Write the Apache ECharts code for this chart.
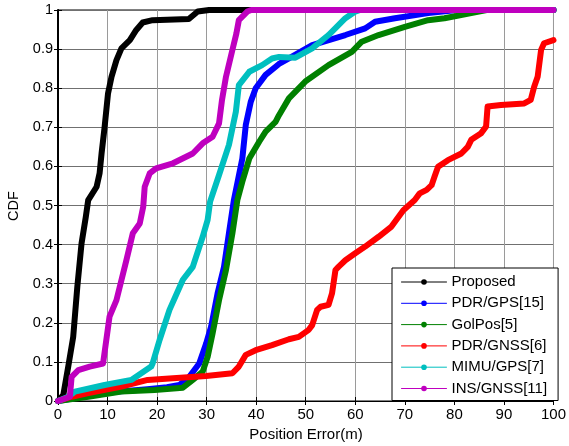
<!DOCTYPE html>
<html><head><meta charset="utf-8">
<script src="https://cdn.jsdelivr.net/npm/echarts@6/dist/echarts.min.js"></script>
<style>html,body{margin:0;padding:0;background:#fff}#c{width:569px;height:446px}</style>
</head><body><div id="c"></div>
<script>
var seriesNames = ['Proposed','PDR/GPS[15]','GolPos[5]','PDR/GNSS[6]','MIMU/GPS[7]','INS/GNSS[11]'];
var xTicks = [0,10,20,30,40,50,60,70,80,90,100];
var yTicks = [0,0.1,0.2,0.3,0.4,0.5,0.6,0.7,0.8,0.9,1];

var proposed = [[0,0],[0.4,0.003],[1.07,0.015],[2.07,0.088],[3.07,0.164],[3.9,0.292],[4.75,0.403],[5.6,0.47],[6.1,0.514],[7.8,0.548],[8.4,0.583],[8.8,0.634],[9.4,0.70],[10.1,0.787],[10.8,0.829],[11.8,0.872],[12.8,0.902],[14.5,0.923],[15.8,0.949],[17.1,0.968],[19.1,0.974],[26.4,0.977],[28.2,0.996],[30.5,1],[38,1],[100,1]];
var pdrGps = [[0,0],[6,0.013],[12,0.024],[18,0.03],[22,0.035],[24.5,0.041],[26.5,0.062],[28.5,0.096],[29.9,0.147],[30.9,0.19],[32.2,0.275],[33.5,0.343],[34.5,0.429],[35.5,0.514],[37.2,0.62],[37.9,0.706],[38.9,0.765],[39.9,0.8],[41.9,0.834],[44.6,0.862],[46.6,0.876],[51.3,0.91],[58,0.936],[62,0.953],[64,0.97],[68,0.979],[74.7,0.992],[80.5,1],[100,1]];
var golPos = [[0,0],[6.1,0.011],[12.8,0.024],[19.5,0.028],[25.2,0.034],[27.2,0.054],[29.2,0.075],[30.2,0.113],[31.2,0.173],[32.5,0.258],[33.9,0.335],[35.2,0.429],[36.2,0.514],[37.2,0.561],[38.6,0.62],[40.6,0.663],[41.9,0.689],[43.9,0.714],[44.6,0.731],[46.6,0.774],[49.9,0.817],[54.6,0.859],[59.3,0.893],[61.3,0.919],[64.7,0.936],[70,0.957],[74.7,0.974],[78,0.979],[83.4,0.992],[86.5,1],[100,1]];
var pdrGnss = [[0,0],[2.75,0.011],[6.1,0.02],[12.8,0.037],[18.1,0.054],[23.2,0.058],[29.9,0.064],[35.2,0.071],[36.5,0.088],[37.9,0.118],[39.9,0.13],[43.2,0.143],[46.6,0.158],[48.6,0.164],[50.6,0.182],[51.3,0.194],[52.3,0.233],[53,0.241],[54.6,0.246],[55.3,0.275],[56,0.335],[56.6,0.343],[58,0.36],[60,0.378],[62,0.395],[64.7,0.42],[67.3,0.446],[69.7,0.488],[72,0.514],[73,0.531],[74.4,0.54],[75.4,0.552],[76,0.574],[76.7,0.599],[78.7,0.616],[81.4,0.633],[82.7,0.65],[83.4,0.668],[85.4,0.685],[86.4,0.702],[86.7,0.753],[89.4,0.757],[94.1,0.761],[95.4,0.77],[96.1,0.804],[96.8,0.829],[97.5,0.898],[98.1,0.915],[100,0.923]];
var mimuGps = [[0,0],[2.07,0.011],[3.4,0.024],[9.4,0.041],[14.8,0.054],[16.8,0.071],[18.8,0.088],[19.1,0.096],[20.5,0.156],[22.5,0.233],[25.2,0.31],[27.2,0.343],[29.2,0.42],[30.2,0.463],[30.7,0.51],[32.5,0.578],[34.5,0.655],[35.9,0.74],[36.5,0.808],[38.6,0.842],[41.2,0.859],[43.2,0.876],[44.6,0.88],[47.9,0.878],[51.3,0.902],[54.6,0.936],[58,0.979],[60,0.996],[61,1],[100,1]];
var insGnss = [[0,0],[2.4,0.011],[2.75,0.062],[4.1,0.079],[6.4,0.088],[9.1,0.096],[10.4,0.216],[11.8,0.258],[13.8,0.36],[15.1,0.429],[16.5,0.454],[17.2,0.497],[17.5,0.548],[18.5,0.582],[19.8,0.595],[23.2,0.608],[27.2,0.633],[29.2,0.659],[31.2,0.676],[32.5,0.71],[33.1,0.77],[33.9,0.829],[35.2,0.898],[36.0,0.94],[36.5,0.974],[38.2,0.996],[39,1],[100,1]];

var seriesData = [proposed, pdrGps, golPos, pdrGnss, mimuGps, insGnss];
var colors = ['#000000','#0000FF','#008000','#FF0000','#00BFBF','#BF00BF'];
var FONT = 'Liberation Sans, Arial, sans-serif';

var chart = echarts.init(document.getElementById('c'), null, {renderer:'canvas'});
var series = seriesData.map(function(d, i){
  return {
    name: seriesNames[i], type: 'line', data: d, symbol: 'circle', symbolSize: 7,
    showSymbol: false, clip: false, animation: false, smooth: false,
    lineStyle: {color: colors[i], width: 6, join: 'round', cap: 'round'},
    itemStyle: {color: colors[i]}, z: 2 + i
  };
});
chart.setOption({
  backgroundColor: '#fff',
  animation: false,
  grid: {left: 58, right: 13, top: 10, bottom: 45, show: true, borderColor: '#000', borderWidth: 1, backgroundColor: 'transparent'},
  xAxis: [{
    type: 'value', min: 0, max: 100, interval: 10,
    axisLine: {onZero: false, lineStyle: {color: '#000', width: 1}},
    axisTick: {inside: true, length: 4, lineStyle: {color: '#000'}},
    axisLabel: {color: '#000', fontSize: 15, fontFamily: FONT, margin: 6},
    splitLine: {show: true, lineStyle: {color: '#9a9a9a', width: 1}}
  }, {
    type: 'value', min: 0, max: 100, interval: 10, position: 'top',
    axisLine: {show: true, lineStyle: {color: '#000'}},
    axisTick: {inside: true, length: 4, lineStyle: {color: '#000'}},
    axisLabel: {show: false}, splitLine: {show: false}
  }],
  yAxis: [{
    type: 'value', min: 0, max: 1, interval: 0.1,
    axisLine: {show: true, onZero: false, lineStyle: {color: '#000', width: 1}},
    axisTick: {show: true, inside: true, length: 4, lineStyle: {color: '#000'}},
    axisLabel: {color: '#000', fontSize: 14.5, fontFamily: FONT, margin: 5,
      formatter: function(v){ return String(Math.round(v*10)/10); }},
    splitLine: {show: true, lineStyle: {color: '#707070', width: 1}}
  }, {
    type: 'value', min: 0, max: 1, interval: 0.1, position: 'right',
    axisLine: {show: true, lineStyle: {color: '#000', width: 2}},
    axisTick: {show: true, inside: true, length: 4, lineStyle: {color: '#000'}},
    axisLabel: {show: false}, splitLine: {show: false}
  }],
  legend: {
    orient: 'vertical', left: 392, top: 268,
    backgroundColor: '#fff', borderColor: '#000', borderWidth: 1,
    padding: [6, 11, 4, 9], itemGap: 5.3, itemWidth: 45, itemHeight: 7,
    data: seriesNames,
    textStyle: {color: '#000', fontSize: 15, fontFamily: FONT, lineHeight: 16},
    lineStyle: {width: 1},
    z: 20
  },
  graphic: [
    {type: 'text', style: {text: 'Position Error(m)', x: 306, y: 435, textAlign: 'center', textVerticalAlign: 'middle', fontSize: 15, fontFamily: FONT, fill: '#000'}},
    {type: 'text', rotation: Math.PI/2, x: 14, y: 206, style: {text: 'CDF', textAlign: 'center', textVerticalAlign: 'middle', fontSize: 14.5, fontFamily: FONT, fill: '#000'}}
  ],
  series: series
});
</script></body></html>
